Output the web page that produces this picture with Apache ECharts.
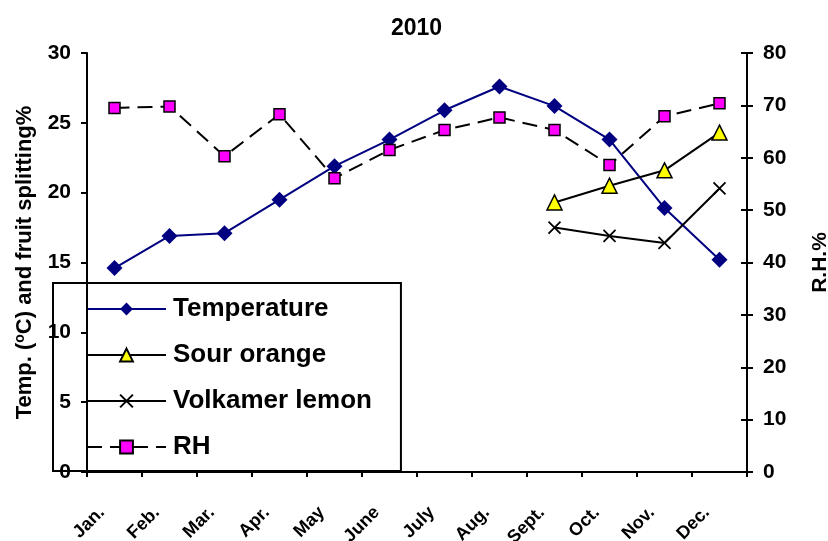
<!DOCTYPE html>
<html>
<head>
<meta charset="utf-8">
<script src="https://cdn.jsdelivr.net/npm/echarts@6/dist/echarts.min.js"></script>
<style>
  html, body { margin: 0; padding: 0; background: #fff; }
  #chart { width: 828px; height: 541px; }
</style>
</head>
<body>
<div id="chart"></div>
<script>
// 데이터
const months = ["Jan.", "Feb.", "Mar.", "Apr.", "May", "June", "July", "Aug.", "Sept.", "Oct.", "Nov.", "Dec."];
const temperature = [14.6, 16.9, 17.1, 19.5, 21.9, 23.8, 25.9, 27.6, 26.2, 23.8, 18.9, 15.2];
const sourOrange = [null, null, null, null, null, null, null, null, 19.3, 20.5, 21.6, 24.3];
const volkamerLemon = [null, null, null, null, null, null, null, null, 17.5, 16.9, 16.4, 20.3];
const rh = [69.5, 69.8, 60.3, 68.3, 56.1, 61.5, 65.3, 67.7, 65.3, 58.6, 67.9, 70.4];

const font = "'Liberation Sans', Arial, sans-serif";
const xMark = "path://M0,0L10,10M10,0L0,10";

const option = {
    animation: false,
    backgroundColor: "#fff",
    title: {
        text: "2010",
        left: 386,
        top: 12,
        textStyle: { fontFamily: font, fontSize: 23, fontWeight: "bold", color: "#000" },
    },
    grid: { left: 87, right: 81, top: 53, bottom: 69, containLabel: false, outerBoundsMode: "none" },
    legend: {
        orient: "vertical",
        left: 53,
        top: 283,
        padding: [13, 29, 11, 33],
        itemWidth: 79,
        itemHeight: 16,
        itemGap: 20,
        backgroundColor: "#fff",
        borderColor: "#000",
        borderWidth: 2,
        borderRadius: 0,
        z: 1,
        textStyle: { fontFamily: font, fontSize: 26, lineHeight: 26, fontWeight: "bold", color: "#000", padding: [0, 0, 0, 2] },
        data: ["Temperature", "Sour orange", "Volkamer lemon", "RH"],
    },
    xAxis: [
        {
            type: "category",
            data: months,
            boundaryGap: true,
            axisLine: { lineStyle: { color: "#000", width: 2 } },
            axisTick: { show: true, length: 5, lineStyle: { color: "#000", width: 2 } },
            axisLabel: {
                rotate: 45,
                margin: 25,
                padding: [0, 18, 0, 0],
                interval: 0,
                fontFamily: font,
                fontSize: 18,
                fontWeight: "bold",
                color: "#000",
            },
            z: 5,
        },
        {
            type: "category",
            data: months,
            position: "top",
            axisLine: { lineStyle: { color: "#888", width: 2 } },
            axisTick: { show: false },
            axisLabel: { show: false },
        },
    ],
    yAxis: [
        {
            type: "value",
            min: 0,
            max: 30,
            interval: 5,
            name: "Temp. ({sup|o}C) and fruit splitting%",
            nameLocation: "middle",
            nameGap: 50,
            nameTextStyle: {
                fontFamily: font, fontSize: 22, fontWeight: "bold", color: "#000",
                rich: { sup: { fontFamily: font, fontSize: 14, fontWeight: "bold", color: "#000", verticalAlign: "top", padding: [0, 0, 10, 0] } },
            },
            splitLine: { show: false },
            axisLine: { show: true, lineStyle: { color: "#000", width: 2 } },
            axisTick: { show: true, length: 6, lineStyle: { color: "#000", width: 2 } },
            axisLabel: { margin: 16, fontFamily: font, fontSize: 21, fontWeight: "bold", color: "#000" },
            z: 5,
        },
        {
            type: "value",
            min: 0,
            max: 80,
            interval: 10,
            position: "right",
            name: "R.H.%",
            nameLocation: "middle",
            nameGap: 63,
            nameTextStyle: { fontFamily: font, fontSize: 21, fontWeight: "bold", color: "#000" },
            splitLine: { show: false },
            axisLine: { show: true, lineStyle: { color: "#000", width: 2 } },
            axisTick: { show: true, length: 6, lineStyle: { color: "#000", width: 2 } },
            axisLabel: { margin: 16, fontFamily: font, fontSize: 21, fontWeight: "bold", color: "#000" },
            z: 5,
        },
        {
            // 오른쪽 축 안쪽 눈금
            type: "value",
            min: 0,
            max: 80,
            interval: 10,
            position: "right",
            splitLine: { show: false },
            axisLine: { show: false },
            axisTick: { show: true, inside: true, length: 6, lineStyle: { color: "#000", width: 2 } },
            axisLabel: { show: false },
            z: 5,
        },
    ],
    series: [
        {
            name: "Temperature",
            type: "line",
            data: temperature,
            symbol: "diamond",
            symbolSize: 16,
            lineStyle: { color: "#000080", width: 2 },
            itemStyle: { color: "#000080", borderColor: "#000080", borderWidth: 0 },
            z: 3,
        },
        {
            name: "Sour orange",
            type: "line",
            data: sourOrange,
            symbol: "triangle",
            symbolSize: 15,
            lineStyle: { color: "#000", width: 2 },
            itemStyle: { color: "#ffff00", borderColor: "#000", borderWidth: 1.5 },
            z: 3,
        },
        {
            name: "Volkamer lemon",
            type: "line",
            data: volkamerLemon,
            symbol: xMark,
            symbolSize: 12,
            lineStyle: { color: "#000", width: 2 },
            itemStyle: { color: "none", borderColor: "#000", borderWidth: 1.8 },
            z: 3,
        },
        {
            name: "RH",
            type: "line",
            yAxisIndex: 1,
            data: rh,
            symbol: "rect",
            symbolSize: 11,
            lineStyle: { color: "#000", width: 2, type: [15, 8] },
            itemStyle: { color: "#ff00ff", borderColor: "#000", borderWidth: 1.5 },
            z: 3,
        },
    ],
};

const myChart = echarts.init(document.getElementById("chart"));
myChart.setOption(option);
</script>
</body>
</html>
